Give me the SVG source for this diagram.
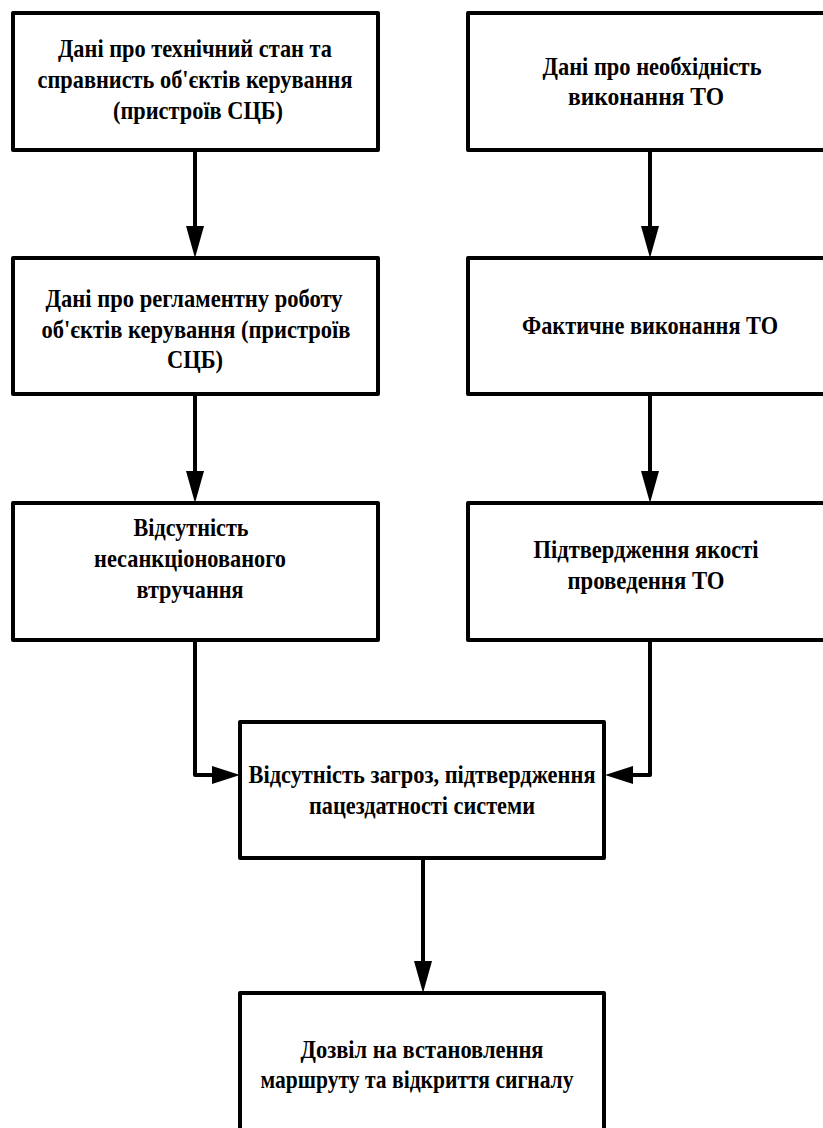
<svg xmlns="http://www.w3.org/2000/svg" width="823" height="1128" viewBox="0 0 823 1128">
  <style>
    .box { fill: #ffffff; stroke: #000000; stroke-width: 4; stroke-linejoin: round; }
    .lbl { font-family: "Liberation Serif", "DejaVu Serif", serif; font-weight: bold; font-size: 26px; fill: #000000; text-anchor: middle; }
    .wire { fill: none; stroke: #000000; stroke-width: 4; stroke-linejoin: round; }
    .head { fill: #000000; stroke: none; }
  </style>
  <rect width="823" height="1128" fill="#ffffff"/>

  <!-- connectors -->
  <g id="connectors">
    <!-- left column -->
    <line class="wire" x1="195" y1="150" x2="195" y2="228"/>
    <polygon class="head" points="186,226 204,226 195,258"/>
    <line class="wire" x1="195" y1="394" x2="195" y2="473"/>
    <polygon class="head" points="186,471 204,471 195,503"/>
    <polyline class="wire" points="195,640 195,775 215,775"/>
    <polygon class="head" points="212,766 212,784 240,775"/>
    <!-- right column -->
    <line class="wire" x1="650" y1="150" x2="650" y2="228"/>
    <polygon class="head" points="641,226 659,226 650,258"/>
    <line class="wire" x1="650" y1="394" x2="650" y2="473"/>
    <polygon class="head" points="641,471 659,471 650,503"/>
    <polyline class="wire" points="650,640 650,775 630,775"/>
    <polygon class="head" points="633,766 633,784 605,775"/>
    <!-- to final box -->
    <line class="wire" x1="423" y1="858" x2="423" y2="963"/>
    <polygon class="head" points="414,961 432,961 423,993"/>
  </g>

  <g id="n-tech-state">
    <rect class="box" x="13" y="13" width="365" height="137"/>
    <text class="lbl" x="195" y="57" textLength="274" lengthAdjust="spacingAndGlyphs">Дані про технічний стан та</text>
    <text class="lbl" x="195" y="88" textLength="315" lengthAdjust="spacingAndGlyphs">справнисть об'єктів керування</text>
    <text class="lbl" x="198" y="119" textLength="170" lengthAdjust="spacingAndGlyphs">(пристроїв СЦБ)</text>
  </g>

  <g id="n-to-need">
    <rect class="box" x="468" y="13" width="380" height="137"/>
    <text class="lbl" x="652" y="75" textLength="219" lengthAdjust="spacingAndGlyphs">Дані про необхідність</text>
    <text class="lbl" x="646" y="105" textLength="156" lengthAdjust="spacingAndGlyphs">виконання ТО</text>
  </g>

  <g id="n-scheduled">
    <rect class="box" x="13" y="258" width="365" height="136"/>
    <text class="lbl" x="194" y="307" textLength="297" lengthAdjust="spacingAndGlyphs">Дані про регламентну роботу</text>
    <text class="lbl" x="196" y="338" textLength="309" lengthAdjust="spacingAndGlyphs">об'єктів керування (пристроїв</text>
    <text class="lbl" x="195" y="368" textLength="56" lengthAdjust="spacingAndGlyphs">СЦБ)</text>
  </g>

  <g id="n-to-done">
    <rect class="box" x="468" y="258" width="380" height="136"/>
    <text class="lbl" x="650" y="334" textLength="256" lengthAdjust="spacingAndGlyphs">Фактичне виконання ТО</text>
  </g>

  <g id="n-no-intrusion">
    <rect class="box" x="13" y="503" width="365" height="137"/>
    <text class="lbl" x="191" y="536" textLength="115" lengthAdjust="spacingAndGlyphs">Відсутність</text>
    <text class="lbl" x="190" y="567" textLength="192" lengthAdjust="spacingAndGlyphs">несанкціонованого</text>
    <text class="lbl" x="190" y="598" textLength="107" lengthAdjust="spacingAndGlyphs">втручання</text>
  </g>

  <g id="n-to-quality">
    <rect class="box" x="468" y="503" width="380" height="137"/>
    <text class="lbl" x="646" y="558" textLength="225" lengthAdjust="spacingAndGlyphs">Підтвердження якості</text>
    <text class="lbl" x="646" y="589" textLength="157" lengthAdjust="spacingAndGlyphs">проведення ТО</text>
  </g>

  <g id="n-system-ok">
    <rect class="box" x="240" y="722" width="364" height="136"/>
    <text class="lbl" x="422" y="783" textLength="347" lengthAdjust="spacingAndGlyphs">Відсутність загроз, підтвердження</text>
    <text class="lbl" x="422" y="814" textLength="226" lengthAdjust="spacingAndGlyphs">пацездатності системи</text>
  </g>

  <g id="n-route-permit">
    <rect class="box" x="240" y="993" width="364" height="160"/>
    <text class="lbl" x="422" y="1058" textLength="243" lengthAdjust="spacingAndGlyphs">Дозвіл на встановлення</text>
    <text class="lbl" x="417" y="1088" textLength="313" lengthAdjust="spacingAndGlyphs">маршруту та відкриття сигналу</text>
  </g>
</svg>
